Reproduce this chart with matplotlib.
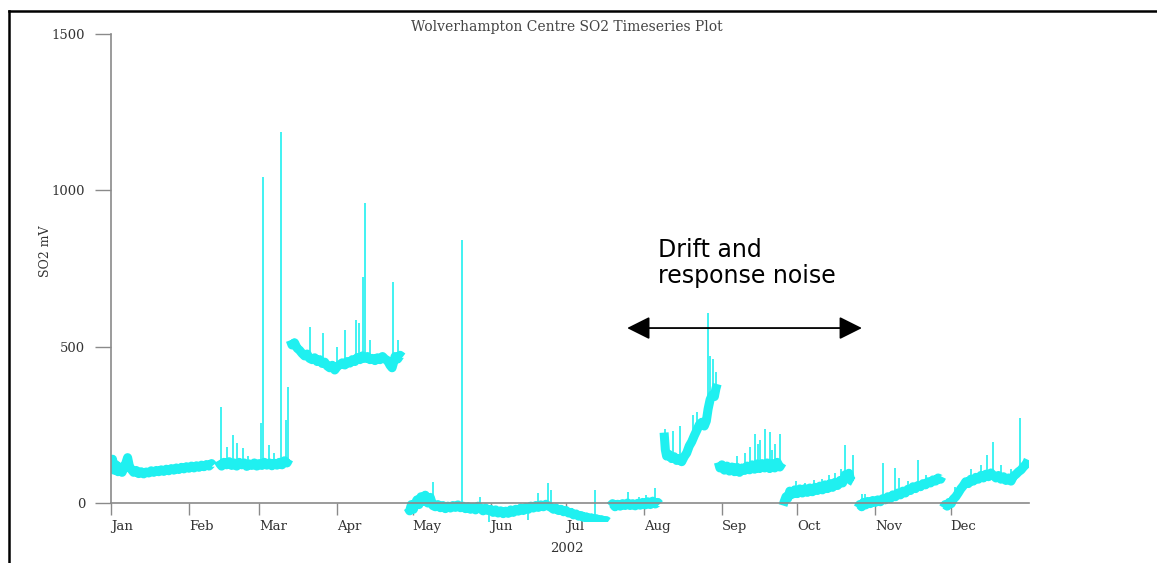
import numpy as np
import matplotlib
matplotlib.use("Agg")
import matplotlib.pyplot as plt
from matplotlib.lines import Line2D

# SO2 instrument response, 2002 (day of year -> mV)
jan_days = [0, 0.6, 1.2, 2, 2.8, 3.6, 4.4, 5.2, 6, 6.6, 7.3, 8, 9, 10, 11, 12, 13, 14, 15, 16, 17, 18, 19, 20,
            21, 22, 23, 24, 25, 26, 27, 28, 29, 30, 31, 32, 33, 34, 35, 36, 37, 38, 39, 40, 40.6]
jan_vals = [118, 140, 105, 122, 100, 115, 98, 112, 130, 145, 118, 108, 98, 104, 94, 100, 93, 99, 96, 103, 98, 104,
            100, 106, 101, 108, 103, 110, 105, 112, 107, 114, 109, 116, 111, 118, 112, 119, 114, 121, 116, 123,
            118, 126, 120]

feb_days = [42.6, 43.3, 44, 45, 46, 47, 48, 49, 50, 51, 52, 53, 54, 55, 56, 57, 58, 59, 60, 61, 62, 63, 64, 65,
            66, 67, 68, 69, 70, 70.8]
feb_vals = [135, 125, 118, 130, 122, 132, 120, 128, 118, 130, 122, 128, 117, 125, 120, 128, 118, 126, 120, 130,
            121, 128, 119, 127, 121, 130, 122, 135, 128, 140]

mar_days = [71.3, 72, 73, 74, 75, 76, 77, 78, 79, 80, 81, 82, 83, 84, 85, 86, 87, 88, 89, 90, 91, 92, 93, 94, 95,
            96, 97, 98, 99, 100, 101, 102, 103, 104, 105, 106, 107, 108, 109, 110, 111, 111.8, 112.5, 113, 114,
            115, 116]
mar_vals = [520, 505, 512, 495, 488, 478, 470, 476, 462, 458, 464, 452, 458, 446, 450, 438, 432, 440, 425, 436,
            442, 448, 441, 452, 447, 458, 452, 465, 458, 470, 462, 468, 458, 462, 455, 464, 458, 468, 460, 455,
            440, 432, 452, 468, 460, 472, 466]

may_days = [118.1, 118.8, 119.5, 120.3, 121, 121.7, 122.5, 123.3, 124, 125, 126, 127, 128, 129, 130, 131, 132,
            133, 134, 135, 136, 137, 138, 139, 140, 141, 142, 143, 144, 145, 146, 147, 148, 149, 150, 151, 152,
            153, 154, 155, 156, 157, 158, 159, 160, 161, 162, 163, 164, 165, 166, 167, 168, 169, 170, 171, 172,
            173, 174, 175, 176, 177, 178, 179, 180, 181, 182, 183, 184, 185, 186, 187, 188, 189, 190, 191, 192,
            193, 194, 195, 196, 197, 197.7]
may_vals = [-15, -25, -5, -20, -2, 10, -5, 20, 5, 25, 0, 18, -8, -12, -5, -15, -8, -18, -10, -16, -8, -14, -6,
            -15, -10, -18, -12, -20, -14, -22, -10, -18, -25, -16, -24, -20, -30, -22, -32, -25, -34, -26, -33,
            -22, -30, -20, -26, -16, -24, -14, -20, -10, -16, -8, -14, -6, -12, -4, -10, -14, -20, -16, -24, -20,
            -28, -24, -32, -30, -38, -35, -42, -40, -46, -44, -50, -47, -52, -50, -55, -53, -58, -56, -60]

jul_days = [198.5, 199.5, 200.5, 201.5, 202.5, 203.5, 204.5, 205.5, 206.5, 207.5, 208.5, 209.5, 210.5, 211.5,
            212.5, 213.5, 214.5, 215.5, 216.5, 217.5, 218.2]
jul_vals = [-10, -2, -12, -4, -10, -2, -8, 0, -8, -2, -9, -1, -7, 2, -6, 4, -5, 6, -3, 2, -4]

aug_days = [220, 220.5, 221, 222, 223, 224, 225, 226, 227, 228, 229, 230, 231, 232, 233, 234, 235, 236, 236.8,
            237.5, 238.3, 239.1, 240, 240.6, 241.1]
aug_vals = [225, 170, 150, 155, 142, 148, 136, 142, 132, 148, 160, 182, 196, 215, 232, 250, 258, 246, 262, 300,
            330, 345, 340, 365, 380]

sep_days = [241.6, 242.2, 243, 244, 245, 246, 247, 248, 249, 250, 251, 252, 253, 254, 255, 256, 257, 258, 259,
            260, 261, 262, 263, 264, 265, 266, 267]
sep_vals = [130, 112, 122, 105, 118, 102, 115, 100, 114, 98, 112, 104, 118, 106, 122, 108, 125, 110, 126, 112,
            128, 110, 126, 112, 130, 115, 128]

oct_days = [267.3, 267.8, 268.5, 269.2, 270, 271, 272, 273, 274, 275, 276, 277, 278, 279, 280, 281, 282, 283,
            284, 285, 286, 287, 288, 289, 290, 291, 292, 292.8, 293.5, 294.3, 295.2]
oct_vals = [-8, 5, 20, 15, 38, 28, 42, 30, 45, 32, 46, 34, 48, 36, 50, 40, 54, 42, 58, 46, 62, 50, 66, 56, 72,
            64, 90, 78, 95, 72, 68]

nov_days = [297.1, 297.8, 298.6, 299.3, 300.2, 301, 302, 303, 304, 305, 306, 307, 308, 309, 310, 311, 312, 313,
            314, 315, 316, 317, 318, 319, 320, 321, 322, 323, 324, 325, 326, 327, 328, 329, 330, 330.5]
nov_vals = [-15, -5, -12, 2, -6, 5, -2, 8, 2, 10, 4, 14, 10, 20, 14, 26, 20, 32, 26, 38, 32, 44, 40, 52, 46, 56,
            52, 62, 58, 68, 64, 74, 70, 80, 76, 84]

dec_days = [331, 331.8, 332.6, 333.4, 334.2, 335, 336, 337, 338, 339, 340, 341, 342, 343, 344, 345, 346, 347,
            348, 349, 350, 351, 352, 353, 354, 355, 356, 357, 358, 359, 360, 361, 362, 363, 364, 364.8]
dec_vals = [-15, -5, -10, 2, -2, 12, 20, 32, 45, 55, 68, 62, 76, 70, 82, 76, 88, 80, 92, 84, 96, 88, 80, 88, 76,
            84, 72, 80, 70, 86, 92, 100, 106, 116, 124, 138]

# short spikes: day, level they leave from, level they reach
spike_days = [43.8, 46, 48.6, 50, 52.5, 54.5, 59.6, 60.3, 63, 65, 67.6, 69.8, 70.4,
              79.2, 84.3, 90, 93.1, 97.5, 98.6, 100.3, 101, 103, 112.2, 114,
              124.1, 128.1, 139.6, 146.8, 150.5, 166, 170, 174, 175.2, 183.5, 192.5,
              205.7, 210, 213, 216.4,
              220.2, 223.5, 226.5, 231.5, 233, 237.5, 238.4, 239.6, 240.5,
              249, 252, 254.2, 256.2, 257.5, 258.2, 260.1, 262.1, 263, 264.1, 266.1,
              272.5, 276, 279.5, 283, 285.5, 288, 290.5, 292, 295,
              298.7, 300, 307.1, 311.9, 313.5, 317, 321, 324,
              335.7, 342, 346, 348.4, 350.8, 354, 358, 361.6]
spike_base = [125, 125, 125, 125, 125, 125, 125, 125, 125, 125, 125, 130, 130,
              460, 450, 435, 445, 455, 460, 465, 465, 460, 450, 460,
              5, 0, -10, -15, -20, -20, -10, -8, -10, -30, -50,
              -5, -5, -5, 0,
              200, 140, 140, 190, 230, 290, 330, 345, 350,
              110, 110, 110, 110, 115, 115, 115, 115, 115, 115, 120,
              35, 40, 40, 45, 50, 55, 65, 80, 70,
              -5, 0, 10, 22, 28, 38, 52, 60,
              15, 70, 80, 88, 92, 80, 75, 100]
spike_peak = [307, 180, 217, 192, 176, 150, 256, 1042, 185, 160, 1185, 265, 371,
              562, 543, 500, 553, 585, 575, 722, 958, 520, 706, 520,
              35, 67, 840, 18, -60, -55, 32, 64, 42, -15, 42,
              35, 20, 25, 48,
              235, 230, 245, 280, 290, 607, 470, 460, 420,
              150, 160, 179, 221, 190, 200, 237, 226, 170, 190, 221,
              70, 65, 72, 78, 90, 95, 110, 185, 155,
              30, 28, 128, 112, 80, 70, 137, 90,
              51, 110, 120, 153, 195, 120, 110, 272]

month_days = [0, 31, 59, 90, 120, 151, 181, 212, 243, 273, 304, 334]
month_labels = ['Jan', 'Feb', 'Mar', 'Apr', 'May', 'Jun', 'Jul', 'Aug', 'Sep', 'Oct', 'Nov', 'Dec']

segments = [(jan_days, jan_vals), (feb_days, feb_vals), (mar_days, mar_vals), (may_days, may_vals),
            (jul_days, jul_vals), (aug_days, aug_vals), (sep_days, sep_vals), (oct_days, oct_vals),
            (nov_days, nov_vals), (dec_days, dec_vals)]

t0 = np.datetime64('2002-01-01T00:00')


def to_dates(days):
    return t0 + (np.asarray(days) * 1440).astype('timedelta64[m]')


cyan = '#1ff0f0'
grey = '#8a8a8a'
serif = 'DejaVu Serif'

fig = plt.figure(figsize=(11.57, 5.63), dpi=100)
ax = fig.add_axes([0.09594, 0.07318, 0.7931, 0.8673])

ax.vlines(to_dates(spike_days), spike_base, spike_peak, color=cyan, lw=1.4, alpha=0.85)
for days, vals in segments:
    ax.plot(to_dates(days), vals, color=cyan, lw=6.5, solid_joinstyle='round', solid_capstyle='butt')

ax.set_xlim(to_dates([0])[0], to_dates([365])[0])
ax.set_ylim(-60, 1500)

for s in ['top', 'right']:
    ax.spines[s].set_visible(False)
ax.spines['bottom'].set_position(('data', 0))
ax.spines['left'].set_bounds(0, 1500)
for s in ['left', 'bottom']:
    ax.spines[s].set_color(grey)
    ax.spines[s].set_linewidth(1.2)

ax.set_yticks([0, 500, 1000, 1500])
ax.tick_params(axis='y', length=11.5, width=1.0, color=grey, pad=7, labelsize=9.5, labelcolor='#333333')
ax.set_xticks(to_dates(month_days), month_labels)
ax.tick_params(axis='x', length=8.6, width=1.0, color=grey, pad=3.6, labelsize=9.5, labelcolor='#333333')
for lab in ax.get_xticklabels() + ax.get_yticklabels():
    lab.set_family(serif)
plt.setp(ax.get_xticklabels(), ha='left')

ax.set_ylabel('SO2 mV', family=serif, fontsize=9, color='#333333')
ax.yaxis.set_label_coords(-0.064, 0.555)

fig.text(0.49, 0.952, 'Wolverhampton Centre SO2 Timeseries Plot', family=serif, fontsize=10,
         color='#444444', ha='center', va='center')
fig.text(0.49, 0.0266, '2002', family=serif, fontsize=9.5, color='#333333', ha='center', va='center')

# annotation
ax.annotate('', xy=(to_dates([298.7])[0], 559), xytext=(to_dates([205.3])[0], 559),
            arrowprops=dict(arrowstyle='<|-|>,head_length=0.7,head_width=0.35', mutation_scale=20,
                            color='black', lw=1.3, shrinkA=0, shrinkB=0))
ax.text(to_dates([217.6])[0], 848, 'Drift and\nresponse noise', fontsize=17, family='DejaVu Sans',
        color='black', ha='left', va='top', linespacing=1.15)

# page frame
fig.add_artist(Line2D([9 / 1157, 9 / 1157], [0, 1 - 11 / 563], color='black', lw=1.8))
fig.add_artist(Line2D([9 / 1157, 1], [1 - 11 / 563, 1 - 11 / 563], color='black', lw=1.8))

fig.savefig('out.png', dpi=100)
